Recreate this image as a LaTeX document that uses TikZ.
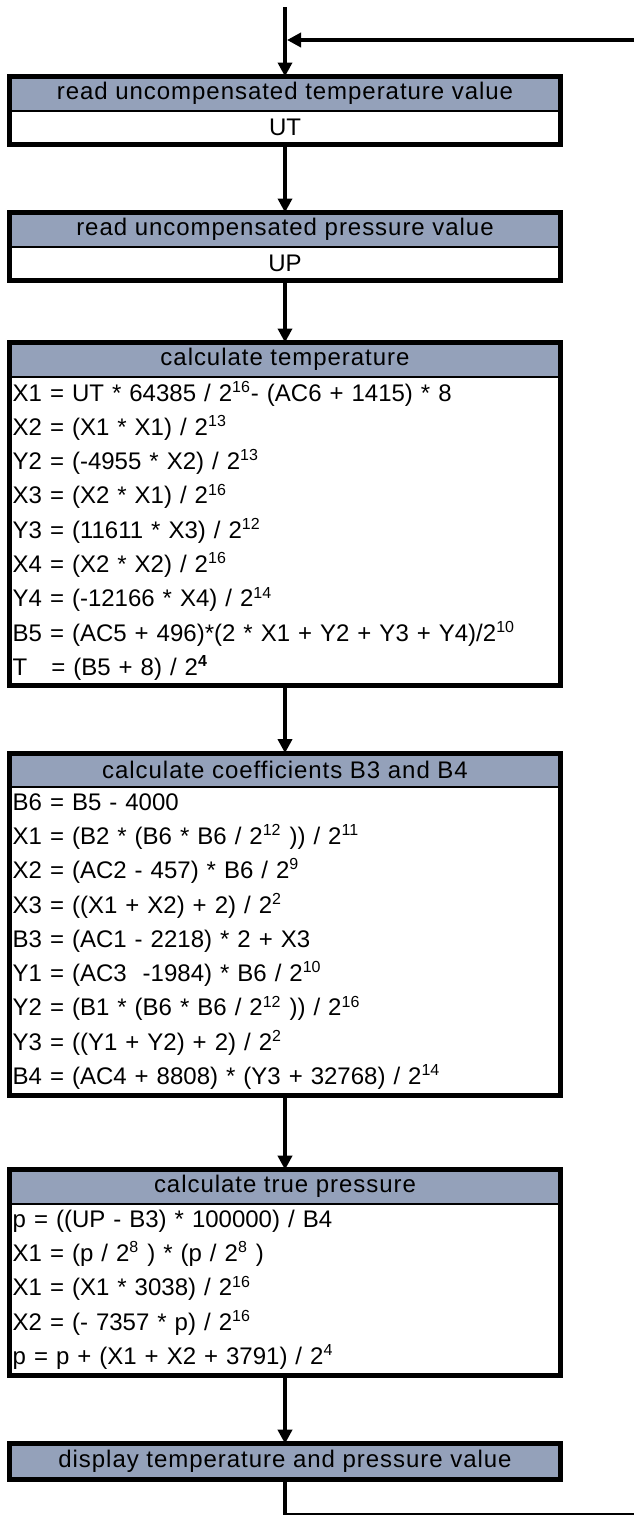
\documentclass[tikz,border=0pt]{standalone}
\usepackage{fontspec}
\setmainfont{Liberation Sans}
\newfontfamily\fonteCabeca{Liberation Sans}[LetterSpace=4]
\definecolor{cinzaAzul}{RGB}{148,161,186}
\usetikzlibrary{arrows.meta,positioning}
\tikzset{
  cabeca/.style={rectangle, draw=black, line width=1pt, fill=cinzaAzul,
                 minimum width=275.5pt, minimum height=17pt, inner sep=0pt,
                 outer sep=0pt, align=center, font=\fonteCabeca\fontsize{12}{14}\selectfont},
  corpo/.style={rectangle, minimum width=275.5pt, minimum height=17pt,
                inner xsep=1.6pt, inner ysep=0pt, outer sep=0pt, text width=272.3pt,
                font=\fontsize{12}{17.15}\selectfont},
  moldura/.style={draw=black, line width=2.5pt},
  seta/.style={-{Triangle[length=7pt,width=7pt]}, line width=2pt},
  linha/.style={line width=2pt},
}
\newcommand{\pot}[1]{\textsuperscript{#1}}

\begin{document}
\begin{tikzpicture}[node distance=34pt]
  \useasboundingbox (0,0) rectangle (317pt,-757.5pt);

  \node[cabeca, anchor=north] (cabA) at (142.5pt,-38.25pt) {read uncompensated temperature value};
  \node[corpo, align=center, below=0pt of cabA] (corA) {UT};

  \node[cabeca, below=of corA] (cabB) {read uncompensated pressure value};
  \node[corpo, align=center, below=0pt of cabB] (corB) {UP};

  \node[cabeca, below=31pt of corB] (cabC) {calculate temperature};
  \node[corpo, align=left, minimum height=154.3pt, below=0pt of cabC] (corC) {%
    X1 = UT * 64385 / 2\pot{16}- (AC6 + 1415) * 8\\
    X2 = (X1 * X1) / 2\pot{13}\\
    Y2 = (-4955 * X2) / 2\pot{13}\\
    X3 = (X2 * X1) / 2\pot{16}\\
    Y3 = (11611 * X3) / 2\pot{12}\\
    X4 = (X2 * X2) / 2\pot{16}\\
    Y4 = (-12166 * X4) / 2\pot{14}\\
    B5 = (AC5 + 496)*(2 * X1 + Y2 + Y3 + Y4)/2\pot{10}\\
    T\ \ \ = (B5 + 8) / 2\pot{\textbf{4}}};

  \node[cabeca, below=of corC] (cabD) {calculate coefficients B3 and B4};
  \node[corpo, align=left, minimum height=154.3pt, below=0pt of cabD] (corD) {%
    B6 = B5 - 4000\\
    X1 = (B2 * (B6 * B6 / 2\pot{12} )) / 2\pot{11}\\
    X2 = (AC2 - 457) * B6 / 2\pot{9}\\
    X3 = ((X1 + X2) + 2) / 2\pot{2}\\
    B3 = (AC1 - 2218) * 2 + X3\\
    Y1 = (AC3\ \ -1984) * B6 / 2\pot{10}\\
    Y2 = (B1 * (B6 * B6 / 2\pot{12} )) / 2\pot{16}\\
    Y3 = ((Y1 + Y2) + 2) / 2\pot{2}\\
    B4 = (AC4 + 8808) * (Y3 + 32768) / 2\pot{14}};

  \node[cabeca, below=37pt of corD] (cabE) {calculate true pressure};
  \node[corpo, align=left, minimum height=86pt, below=0pt of cabE] (corE) {%
    p = ((UP - B3) * 100000) / B4\\
    X1 = (p / 2\pot{8} ) * (p / 2\pot{8} )\\
    X1 = (X1 * 3038) / 2\pot{16}\\
    X2 = (- 7357 * p) / 2\pot{16}\\
    p = p + (X1 + X2 + 3791) / 2\pot{4}};

  \node[cabeca, minimum height=18pt, below=of corE] (cabF) {display temperature and pressure value};

  \draw[moldura] (cabA.north west) rectangle (corA.south east);
  \draw[moldura] (cabB.north west) rectangle (corB.south east);
  \draw[moldura] (cabC.north west) rectangle (corC.south east);
  \draw[moldura] (cabD.north west) rectangle (corD.south east);
  \draw[moldura] (cabE.north west) rectangle (corE.south east);
  \draw[moldura] (cabF.north west) rectangle (cabF.south east);

  \coordinate (inicio) at (142.5pt,-3.5pt);
  \coordinate (juncao) at (143.5pt,-20pt);
  \coordinate (retorno) at (317pt,-20pt);
  \coordinate (saida) at (317pt,-757.5pt);

  \draw[seta] (inicio) -- (cabA);
  \draw[seta] (retorno) -- (juncao);
  \draw[seta] (corA) -- (cabB);
  \draw[seta] (corB) -- (cabC);
  \draw[seta] (corC) -- (cabD);
  \draw[seta] (corD) -- (cabE);
  \draw[seta] (corE) -- (cabF);
  \draw[linha] (cabF) |- (saida);
\end{tikzpicture}
\end{document}
